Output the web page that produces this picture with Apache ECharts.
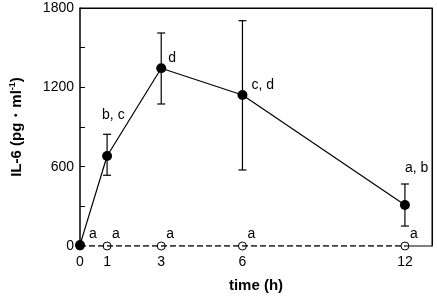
<!DOCTYPE html>
<html><head><meta charset="utf-8">
<script src="https://cdn.jsdelivr.net/npm/echarts@6/dist/echarts.min.js"></script>
<style>html,body{margin:0;padding:0;background:#fff}#c{width:437px;height:298px}</style>
</head><body><div id="c"></div>
<script>
// Data
var times = [0, 1, 3, 6, 12];
var xTickLabels = [0, 1, 3, 6, 12];
var yTickLabels = [0, 600, 1200, 1800];
var treatedMean = [8, 681, 1344, 1142, 310];
var treatedUpper = [8, 845, 1611, 1704, 469];
var treatedLower = [8, 535, 1074, 575, 151];
var treatedLetters = ['a', 'b, c', 'd', 'c, d', 'a, b'];
var controlTimes = [1, 3, 6, 12];
var controlMean = [0, 0, 0, 0];
var controlLetters = ['a', 'a', 'a', 'a'];

// Axis extents
var X_MIN = 0, X_MAX = 13, Y_MIN = 0, Y_MAX = 1800;

// Label offsets (style only)
var treatedLabelOffsets = [[9, -11], [-5, -41], [7, -10], [9, -10], [0, -37]];
var controlLabelOffset = [5, -12];

var FONT = '"Liberation Sans", Arial, sans-serif';
var chart = echarts.init(document.getElementById('c'), null, {renderer: 'canvas'});

var treatedData = times.map(function (t, i) {
  return {
    value: [t, treatedMean[i]],
    label: {show: true, formatter: treatedLetters[i], position: 'inside', align: 'left', verticalAlign: 'middle', offset: treatedLabelOffsets[i]}
  };
});
var controlData = controlTimes.map(function (t, i) {
  return {
    value: [t, controlMean[i]],
    label: {show: true, formatter: controlLetters[i], position: 'inside', align: 'left', verticalAlign: 'middle', offset: controlLabelOffset}
  };
});
var errData = times.map(function (t, i) { return [t, treatedLower[i], treatedUpper[i]]; })
  .filter(function (d) { return d[2] - d[1] > 0; });
var lastControlTime = controlTimes[controlTimes.length - 1];

var frameAxisStyle = {
  axisLine: {show: true, onZero: false, lineStyle: {color: '#000', width: 1}},
  axisTick: {show: false}, axisLabel: {show: false}, splitLine: {show: false}
};

chart.setOption({
  animation: false,
  grid: {left: 73, right: 5, top: 8, bottom: 52, show: false},
  xAxis: [{
    type: 'value', min: X_MIN, max: X_MAX, interval: 1,
    name: 'time (h)', nameLocation: 'middle', nameGap: 32,
    nameTextStyle: {fontFamily: FONT, fontSize: 15, fontWeight: 'bold', color: '#000'},
    axisLine: {show: false},
    axisTick: {show: false},
    splitLine: {show: false},
    axisLabel: {
      margin: 9, fontFamily: FONT, fontSize: 14, color: '#000',
      formatter: function (v) { return xTickLabels.indexOf(v) >= 0 ? String(v) : ''; }
    }
  }, {
    type: 'value', position: 'top', min: X_MIN, max: X_MAX, interval: 1,
    axisLine: frameAxisStyle.axisLine, axisTick: frameAxisStyle.axisTick,
    axisLabel: frameAxisStyle.axisLabel, splitLine: frameAxisStyle.splitLine
  }],
  yAxis: [{
    type: 'value', min: Y_MIN, max: Y_MAX, interval: 300,
    name: '{t|IL-6 (pg・ml}{s|-1}{t|)}', nameLocation: 'middle', nameGap: 55, nameRotate: 90,
    nameTextStyle: {
      rich: {
        t: {fontFamily: FONT, fontSize: 15, fontWeight: 'bold', color: '#000'},
        s: {fontFamily: FONT, fontSize: 9, fontWeight: 'bold', color: '#000', verticalAlign: 'top', padding: [0, 0, 8, 0]}
      }
    },
    axisLine: {show: true, onZero: false, lineStyle: {color: '#000', width: 1.5}},
    axisTick: {show: true, inside: true, length: 5, lineStyle: {color: '#000'}},
    splitLine: {show: false},
    axisLabel: {
      margin: 6, fontFamily: FONT, fontSize: 14, color: '#000',
      formatter: function (v) { return yTickLabels.indexOf(v) >= 0 ? String(v) : ''; }
    }
  }, {
    type: 'value', position: 'right', min: Y_MIN, max: Y_MAX, interval: 300,
    axisLine: frameAxisStyle.axisLine, axisTick: frameAxisStyle.axisTick,
    axisLabel: frameAxisStyle.axisLabel, splitLine: frameAxisStyle.splitLine
  }],
  series: [
    {
      type: 'line', xAxisIndex: 1, yAxisIndex: 1,
      data: [[0, 0]].concat(controlData), symbol: 'circle', symbolSize: 8,
      showSymbol: true,
      itemStyle: {color: 'rgba(255,255,255,0)', borderColor: '#000', borderWidth: 1},
      lineStyle: {color: '#000', width: 1.5, type: [6, 3]},
      label: {fontFamily: FONT, fontSize: 14, color: '#000'},
      z: 2
    },
    {
      type: 'custom', z: 3,
      data: errData,
      renderItem: function (params, api) {
        var x = api.value(0);
        var lo = api.coord([x, api.value(1)]);
        var hi = api.coord([x, api.value(2)]);
        var w = 4;
        var style = {stroke: '#000', lineWidth: 1.2};
        return {
          type: 'group', children: [
            {type: 'line', shape: {x1: lo[0], y1: lo[1], x2: hi[0], y2: hi[1]}, style: style},
            {type: 'line', shape: {x1: hi[0] - w, y1: hi[1], x2: hi[0] + w, y2: hi[1]}, style: style},
            {type: 'line', shape: {x1: lo[0] - w, y1: lo[1], x2: lo[0] + w, y2: lo[1]}, style: style}
          ]
        };
      }
    },
    {
      // plot frame: top edge, right edge and the solid bit of the baseline past the last control point
      type: 'custom', z: 1, clip: false, silent: true,
      data: [[X_MAX, Y_MAX]],
      renderItem: function (params, api) {
        var tl = api.coord([X_MIN, Y_MAX]);
        var tr = api.coord([X_MAX, Y_MAX]);
        var br = api.coord([X_MAX, Y_MIN]);
        var bm = api.coord([lastControlTime, Y_MIN]);
        return {
          type: 'polyline',
          shape: {points: [tl, tr, br, bm]},
          style: {stroke: '#000', lineWidth: 1, fill: 'none'}
        };
      }
    },
    {
      type: 'line', data: treatedData, symbol: 'circle', symbolSize: 10,
      itemStyle: {color: '#000'},
      lineStyle: {color: '#000', width: 1.2},
      label: {fontFamily: FONT, fontSize: 14, color: '#000'},
      z: 4
    }
  ]
});
</script></body></html>
